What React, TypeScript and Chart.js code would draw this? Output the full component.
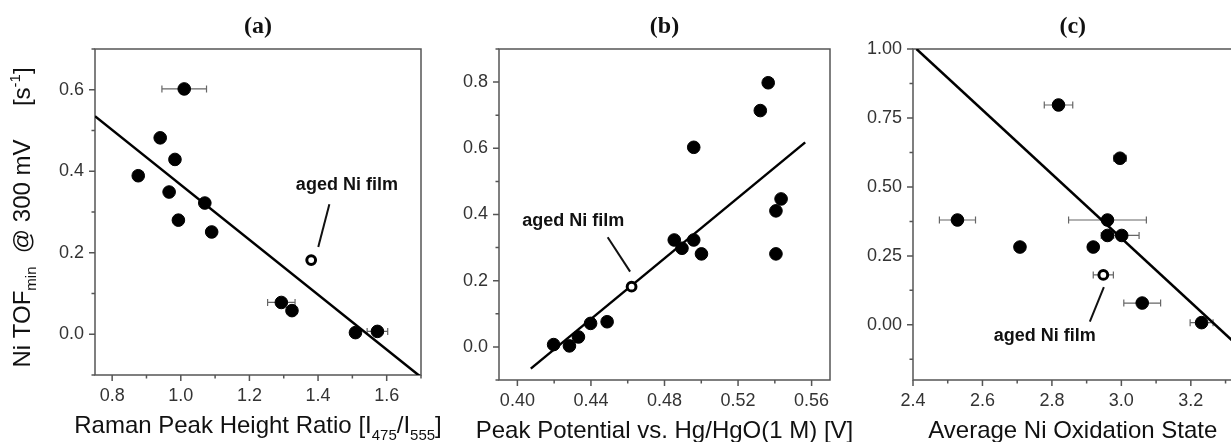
import React, { useEffect, useRef } from "react";
import { Chart, registerables } from "chart.js";

Chart.register(...registerables);

// ---------------- Panel (a) data ----------------
const A_X = [1.01, 0.94, 0.983, 0.876, 0.966, 1.07, 0.993, 1.09, 1.293, 1.324, 1.509, 1.573];
const A_Y = [0.602, 0.482, 0.429, 0.389, 0.349, 0.322, 0.28, 0.251, 0.078, 0.058, 0.004, 0.007];
const A_XERR = [0.065, 0, 0, 0, 0, 0, 0, 0, 0.04, 0, 0, 0.03];
const A_AGED_X = [1.38];
const A_AGED_Y = [0.182];
const A_AGED_XERR = [0];
const A_FIT_X = [0.75, 1.7];
const A_FIT_Y = [0.535, -0.105];
const A_X_TICKS = [0.8, 1.0, 1.2, 1.4, 1.6];
const A_X_LABELS = ["0.8", "1.0", "1.2", "1.4", "1.6"];
const A_X_MINOR = [0.9, 1.1, 1.3, 1.5, 1.7];
const A_Y_TICKS = [0.0, 0.2, 0.4, 0.6];
const A_Y_LABELS = ["0.0", "0.2", "0.4", "0.6"];
const A_Y_MINOR = [-0.1, 0.1, 0.3, 0.5, 0.7];

// ---------------- Panel (b) data ----------------
const B_X = [0.4197, 0.4283, 0.4332, 0.4398, 0.4488, 0.4853, 0.4895, 0.4959, 0.5001, 0.4959, 0.5321, 0.5364, 0.5434, 0.5406, 0.5406];
const B_Y = [0.007, 0.003, 0.03, 0.071, 0.076, 0.323, 0.298, 0.323, 0.281, 0.603, 0.714, 0.798, 0.447, 0.411, 0.281];
const B_XERR = [0, 0, 0, 0, 0, 0, 0, 0, 0, 0, 0, 0, 0, 0, 0];
const B_AGED_X = [0.4621];
const B_AGED_Y = [0.182];
const B_AGED_XERR = [0];
const B_FIT_X = [0.4073, 0.5565];
const B_FIT_Y = [-0.0657, 0.618];
const B_X_TICKS = [0.4, 0.44, 0.48, 0.52, 0.56];
const B_X_LABELS = ["0.40", "0.44", "0.48", "0.52", "0.56"];
const B_X_MINOR = [0.42, 0.46, 0.5, 0.54];
const B_Y_TICKS = [0.0, 0.2, 0.4, 0.6, 0.8];
const B_Y_LABELS = ["0.0", "0.2", "0.4", "0.6", "0.8"];
const B_Y_MINOR = [-0.1, 0.1, 0.3, 0.5, 0.7, 0.9];

// ---------------- Panel (c) data ----------------
const C_X = [2.819, 2.996, 2.528, 2.96, 2.96, 3.001, 2.708, 2.919, 3.06, 3.231];
const C_Y = [0.797, 0.604, 0.38, 0.38, 0.324, 0.324, 0.282, 0.282, 0.079, 0.008];
const C_XERR = [0.041, 0.018, 0.052, 0.112, 0.018, 0.05, 0.015, 0.015, 0.053, 0.033];
const C_AGED_X = [2.948];
const C_AGED_Y = [0.181];
const C_AGED_XERR = [0.029];
const C_FIT_X = [2.41, 3.32];
const C_FIT_Y = [1.0, -0.058];
const C_X_TICKS = [2.4, 2.6, 2.8, 3.0, 3.2];
const C_X_LABELS = ["2.4", "2.6", "2.8", "3.0", "3.2"];
const C_X_MINOR = [2.5, 2.7, 2.9, 3.1, 3.3];
const C_Y_TICKS = [0.0, 0.25, 0.5, 0.75, 1.0];
const C_Y_LABELS = ["0.00", "0.25", "0.50", "0.75", "1.00"];
const C_Y_MINOR = [-0.125, 0.125, 0.375, 0.625, 0.875];

const NOTE_TEXT = "aged Ni film";
const SANS = "'Liberation Sans', Arial, sans-serif";
const SERIF = "'Liberation Serif', 'Times New Roman', serif";
const H = 442;

type Part = { t: string; s: number };

function drawRich(ctx: CanvasRenderingContext2D, parts: Part[], x: number, y: number, size: number) {
  const small = Math.round(size * 0.62);
  const fonts = parts.map((p) => (p.s === 0 ? `${size}px ${SANS}` : `${small}px ${SANS}`));
  const widths = parts.map((p, i) => {
    ctx.font = fonts[i];
    return ctx.measureText(p.t).width;
  });
  const total = widths.reduce((a, b) => a + b, 0);
  let cx = x - total / 2;
  ctx.textAlign = "left";
  ctx.textBaseline = "alphabetic";
  parts.forEach((p, i) => {
    ctx.font = fonts[i];
    const dy = p.s < 0 ? size * 0.28 : p.s > 0 ? -size * 0.4 : 0;
    ctx.fillText(p.t, cx, y + dy);
    cx += widths[i];
  });
}

type Cfg = {
  canvasLeft: number;
  canvasWidth: number;
  area: { left: number; top: number; right: number; bottom: number };
  xMin: number; xMax: number; yMin: number; yMax: number;
  xTicks: number[]; xLabels: string[]; xMinor: number[];
  yTicks: number[]; yLabels: string[]; yMinor: number[];
  xs: number[]; ys: number[]; xerr: number[];
  agedX: number[]; agedY: number[]; agedXerr: number[];
  fitX: number[]; fitY: number[];
  note: { tx: number; ty: number; lx1: number; ly1: number; lx2: number; ly2: number };
  title: string;
  xTitle: Part[];
  yTitle?: Part[];
};

const CFG_A: Cfg = {
  canvasLeft: 0, canvasWidth: 440,
  area: { left: 95, top: 49, right: 421, bottom: 375 },
  xMin: 0.75, xMax: 1.7, yMin: -0.1, yMax: 0.7,
  xTicks: A_X_TICKS, xLabels: A_X_LABELS, xMinor: A_X_MINOR,
  yTicks: A_Y_TICKS, yLabels: A_Y_LABELS, yMinor: A_Y_MINOR,
  xs: A_X, ys: A_Y, xerr: A_XERR,
  agedX: A_AGED_X, agedY: A_AGED_Y, agedXerr: A_AGED_XERR,
  fitX: A_FIT_X, fitY: A_FIT_Y,
  note: { tx: 1.484, ty: 0.366, lx1: 1.433, ly1: 0.319, lx2: 1.4006, ly2: 0.2144 },
  title: "(a)",
  xTitle: [
    { t: "Raman Peak Height Ratio [I", s: 0 },
    { t: "475", s: -1 },
    { t: "/I", s: 0 },
    { t: "555", s: -1 },
    { t: "]", s: 0 },
  ],
  yTitle: [
    { t: "Ni TOF", s: 0 },
    { t: "min", s: -1 },
    { t: "  @ 300 mV     [s", s: 0 },
    { t: "-1", s: 1 },
    { t: "]", s: 0 },
  ],
};

const CFG_B: Cfg = {
  canvasLeft: 430, canvasWidth: 440,
  area: { left: 499, top: 49, right: 830, bottom: 380 },
  xMin: 0.39, xMax: 0.57, yMin: -0.1, yMax: 0.9,
  xTicks: B_X_TICKS, xLabels: B_X_LABELS, xMinor: B_X_MINOR,
  yTicks: B_Y_TICKS, yLabels: B_Y_LABELS, yMinor: B_Y_MINOR,
  xs: B_X, ys: B_Y, xerr: B_XERR,
  agedX: B_AGED_X, agedY: B_AGED_Y, agedXerr: B_AGED_XERR,
  fitX: B_FIT_X, fitY: B_FIT_Y,
  note: { tx: 0.4304, ty: 0.381, lx1: 0.4491, ly1: 0.3315, lx2: 0.4613, ly2: 0.2273 },
  title: "(b)",
  xTitle: [{ t: "Peak Potential vs. Hg/HgO(1 M) [V]", s: 0 }],
};

const CFG_C: Cfg = {
  canvasLeft: 850, canvasWidth: 390,
  area: { left: 913, top: 49, right: 1232.5, bottom: 380 },
  xMin: 2.4, xMax: 3.32, yMin: -0.2, yMax: 1.0,
  xTicks: C_X_TICKS, xLabels: C_X_LABELS, xMinor: C_X_MINOR,
  yTicks: C_Y_TICKS, yLabels: C_Y_LABELS, yMinor: C_Y_MINOR,
  xs: C_X, ys: C_Y, xerr: C_XERR,
  agedX: C_AGED_X, agedY: C_AGED_Y, agedXerr: C_AGED_XERR,
  fitX: C_FIT_X, fitY: C_FIT_Y,
  note: { tx: 2.7795, ty: -0.04, lx1: 2.9496, ly1: 0.1366, lx2: 2.9092, ly2: 0.012 },
  title: "(c)",
  xTitle: [{ t: "Average Ni Oxidation State", s: 0 }],
};

function Panel({ cfg }: { cfg: Cfg }) {
  const ref = useRef<HTMLCanvasElement | null>(null);
  useEffect(() => {
    const canvas = ref.current;
    if (!canvas) return;
    const a = cfg.area;
    const cl = cfg.canvasLeft;

    const panelPlugin = {
      id: "panelDecor",
      beforeDatasetsDraw(chart: any) {
        const ctx = chart.ctx as CanvasRenderingContext2D;
        const xs = chart.scales.x;
        const ys = chart.scales.y;
        const ca = chart.chartArea;
        ctx.save();
        ctx.strokeStyle = "#666";
        ctx.lineWidth = 1.2;
        const drawErr = (xv: number[], yv: number[], ev: number[]) => {
          xv.forEach((x, i) => {
            const e = ev[i];
            if (!e) return;
            const x1 = xs.getPixelForValue(x - e);
            const x2 = xs.getPixelForValue(x + e);
            const y = ys.getPixelForValue(yv[i]);
            ctx.beginPath();
            ctx.moveTo(x1, y);
            ctx.lineTo(x2, y);
            ctx.moveTo(x1, y - 3.5);
            ctx.lineTo(x1, y + 3.5);
            ctx.moveTo(x2, y - 3.5);
            ctx.lineTo(x2, y + 3.5);
            ctx.stroke();
          });
        };
        drawErr(cfg.xs, cfg.ys, cfg.xerr);
        drawErr(cfg.agedX, cfg.agedY, cfg.agedXerr);
        ctx.strokeStyle = "#555";
        ctx.lineWidth = 1.5;
        ctx.strokeRect(ca.left, ca.top, ca.right - ca.left, ca.bottom - ca.top);
        ctx.beginPath();
        cfg.xTicks.forEach((v) => {
          const p = xs.getPixelForValue(v);
          ctx.moveTo(p, ca.bottom);
          ctx.lineTo(p, ca.bottom + 6);
        });
        cfg.xMinor.forEach((v) => {
          const p = xs.getPixelForValue(v);
          ctx.moveTo(p, ca.bottom);
          ctx.lineTo(p, ca.bottom + 3.5);
        });
        cfg.yTicks.forEach((v) => {
          const p = ys.getPixelForValue(v);
          ctx.moveTo(ca.left, p);
          ctx.lineTo(ca.left - 6, p);
        });
        cfg.yMinor.forEach((v) => {
          const p = ys.getPixelForValue(v);
          ctx.moveTo(ca.left, p);
          ctx.lineTo(ca.left - 3.5, p);
        });
        ctx.stroke();
        ctx.restore();
      },
      afterDraw(chart: any) {
        const ctx = chart.ctx as CanvasRenderingContext2D;
        const xs = chart.scales.x;
        const ys = chart.scales.y;
        const ca = chart.chartArea;
        const cx = (ca.left + ca.right) / 2;
        ctx.save();
        ctx.fillStyle = "#111";
        ctx.font = `bold 24px ${SERIF}`;
        ctx.textAlign = "center";
        ctx.textBaseline = "middle";
        ctx.fillText(cfg.title, cx, 27);
        ctx.fillStyle = "#111";
        drawRich(ctx, cfg.xTitle, cx, ca.bottom + 58, 24);
        if (cfg.yTitle) {
          ctx.save();
          ctx.translate(29.5 - cl, 217.5);
          ctx.rotate(-Math.PI / 2);
          drawRich(ctx, cfg.yTitle, 0, 0, 24);
          ctx.restore();
        }
        const n = cfg.note;
        ctx.strokeStyle = "#111";
        ctx.lineWidth = 2;
        ctx.beginPath();
        ctx.moveTo(xs.getPixelForValue(n.lx1), ys.getPixelForValue(n.ly1));
        ctx.lineTo(xs.getPixelForValue(n.lx2), ys.getPixelForValue(n.ly2));
        ctx.stroke();
        ctx.fillStyle = "#111";
        ctx.font = `bold 18px ${SANS}`;
        ctx.textAlign = "center";
        ctx.textBaseline = "middle";
        ctx.fillText(NOTE_TEXT, xs.getPixelForValue(n.tx), ys.getPixelForValue(n.ty));
        ctx.restore();
      },
    };

    const chart = new Chart(canvas, {
      type: "scatter",
      data: {
        datasets: [
          {
            label: "aged",
            data: cfg.agedX.map((x, i) => ({ x, y: cfg.agedY[i] })),
            pointRadius: 4.4,
            pointBackgroundColor: "#fff",
            pointBorderColor: "#000",
            pointBorderWidth: 3,
            showLine: false,
            order: 1,
          },
          {
            label: "films",
            data: cfg.xs.map((x, i) => ({ x, y: cfg.ys[i] })),
            pointRadius: 6.3,
            pointBackgroundColor: "#000",
            pointBorderColor: "#000",
            pointBorderWidth: 1,
            showLine: false,
            order: 2,
          },
          {
            label: "fit",
            data: cfg.fitX.map((x, i) => ({ x, y: cfg.fitY[i] })),
            showLine: true,
            borderColor: "#000",
            borderWidth: 2.5,
            pointRadius: 0,
            order: 3,
          } as any,
        ],
      },
      options: {
        animation: false,
        responsive: false,
        maintainAspectRatio: false,
        events: [],
        layout: {
          padding: {
            left: 0,
            top: a.top,
            right: cl + cfg.canvasWidth - a.right,
            bottom: 0,
          },
        },
        plugins: {
          legend: { display: false },
          tooltip: { enabled: false },
          title: { display: false },
        },
        scales: {
          x: {
            type: "linear",
            position: "bottom",
            min: cfg.xMin,
            max: cfg.xMax,
            grid: { display: false, drawTicks: false },
            border: { display: false },
            afterBuildTicks: (s: any) => {
              s.ticks = cfg.xTicks.map((v) => ({ value: v }));
            },
            afterFit: (s: any) => {
              s.height = H - a.bottom;
            },
            ticks: {
              autoSkip: false,
              maxRotation: 0,
              padding: 10,
              color: "#333",
              font: { family: SANS, size: 18 },
              callback: (_v: any, i: number) => cfg.xLabels[i],
            },
          },
          y: {
            type: "linear",
            position: "left",
            min: cfg.yMin,
            max: cfg.yMax,
            grid: { display: false, drawTicks: false },
            border: { display: false },
            afterBuildTicks: (s: any) => {
              s.ticks = cfg.yTicks.map((v) => ({ value: v }));
            },
            afterFit: (s: any) => {
              s.width = a.left - cl;
            },
            ticks: {
              autoSkip: false,
              padding: 11,
              color: "#333",
              font: { family: SANS, size: 18 },
              callback: (_v: any, i: number) => cfg.yLabels[i],
            },
          },
        },
      } as any,
      plugins: [panelPlugin],
    });
    return () => chart.destroy();
  }, [cfg]);

  return (
    <canvas
      ref={ref}
      width={cfg.canvasWidth}
      height={H}
      style={{
        position: "absolute",
        left: cfg.canvasLeft,
        top: 0,
        width: cfg.canvasWidth,
        height: H,
      }}
    />
  );
}

export default function App() {
  return (
    <div
      style={{
        position: "fixed",
        left: 0,
        top: 0,
        width: 1231,
        height: H,
        overflow: "hidden",
        background: "#fff",
      }}
    >
      <Panel cfg={CFG_A} />
      <Panel cfg={CFG_B} />
      <Panel cfg={CFG_C} />
    </div>
  );
}
